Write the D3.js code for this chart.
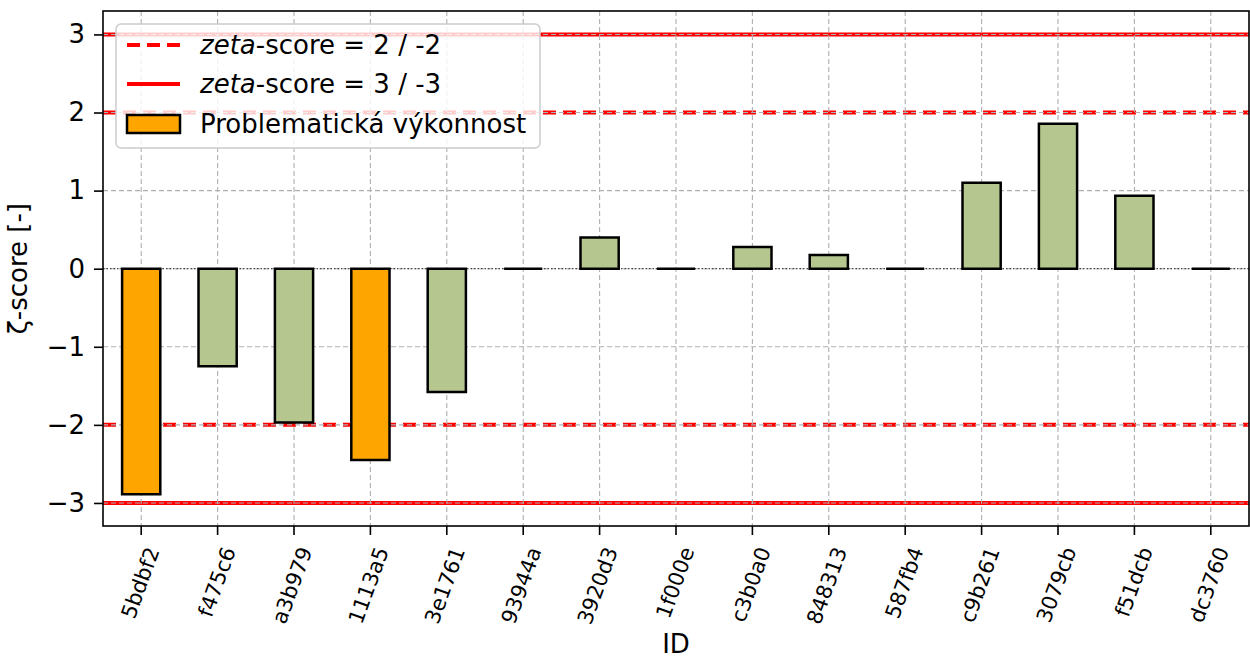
<!DOCTYPE html>
<html><head><meta charset="utf-8">
<script src="https://cdn.jsdelivr.net/npm/d3@7"></script>
<style>body{margin:0;background:#fff}svg{display:block;font-family:"DejaVu Sans",sans-serif}</style>
</head><body><svg id="c" width="1250" height="659"></svg>
<script>
const categories = ["5bdbf2","f475c6","a3b979","1113a5","3e1761","93944a","3920d3","1f000e","c3b0a0","848313","587fb4","c9b261","3079cb","f51dcb","dc3760"];
const values = [-2.89,-1.25,-1.97,-2.45,-1.58,0,0.40,0,0.278,0.175,0,1.10,1.857,0.935,0];
const yTicks = [-3,-2,-1,0,1,2,3];
const warnLevels = [2,-2];
const actionLevels = [3,-3];
const legendLabels = [["zeta","-score = 2 / -2"],["zeta","-score = 3 / -3"],["","Problematická výkonnost"]];

const svg = d3.select("#c");
const L = 103, R = 1249, T = 11, B = 526;
const x = d3.scaleBand().domain(categories).range([L, R]).paddingInner(0).paddingOuter(0);
const y = d3.scaleLinear().domain([-3.295, 3.3]).range([B, T]);
const bw = x.bandwidth()*0.5;
const FS = 26;

// red reference lines
const g0 = svg.append("g");
g0.selectAll("line.warn").data(warnLevels).join("line")
  .attr("x1", L).attr("x2", R).attr("y1", d=>y(d)).attr("y2", d=>y(d))
  .attr("stroke", "red").attr("stroke-width", 4).attr("stroke-dasharray", "13,7");
g0.selectAll("line.act").data(actionLevels).join("line")
  .attr("x1", L).attr("x2", R).attr("y1", d=>y(d)).attr("y2", d=>y(d))
  .attr("stroke", "red").attr("stroke-width", 4);

// grid
const grid = svg.append("g").attr("stroke", "#b0b0b0").attr("stroke-width", 1.1).attr("stroke-dasharray", "5,3");
grid.selectAll("line.gx").data(categories).join("line")
  .attr("x1", d=>x(d)+x.bandwidth()/2).attr("x2", d=>x(d)+x.bandwidth()/2).attr("y1", T).attr("y2", B);
grid.selectAll("line.gy").data(yTicks).join("line")
  .attr("x1", L).attr("x2", R).attr("y1", d=>y(d)).attr("y2", d=>y(d));
// zero dotted line
svg.append("line").attr("x1", L).attr("x2", R).attr("y1", y(0)).attr("y2", y(0))
  .attr("stroke", "#444").attr("stroke-width", 1.2).attr("stroke-dasharray", "1.5,2");

// bars (paths so zero-height bars still show their edge)
svg.append("g").selectAll("path").data(values).join("path")
  .attr("d", (d,i)=>{
    const x0 = x(categories[i])+x.bandwidth()/2-bw/2;
    const y0 = y(Math.max(0,d)), h = Math.abs(y(d)-y(0));
    return `M${x0},${y0}h${bw}v${h}h${-bw}Z`;
  })
  .attr("fill", d=>Math.abs(d)>=2 ? "#ffa500" : "#b5c68e")
  .attr("stroke", "#000").attr("stroke-width", 2.5).attr("stroke-linejoin", "miter");

// frame
svg.append("rect").attr("x", L).attr("y", T).attr("width", R-L).attr("height", B-T)
  .attr("fill", "none").attr("stroke", "#000").attr("stroke-width", 1.6);

// y axis
const yAxis = svg.append("g").attr("transform", `translate(${L},0)`)
  .call(d3.axisLeft(y).tickValues(yTicks).tickSize(9).tickPadding(9).tickFormat(d3.format("d")));
yAxis.select(".domain").remove();
yAxis.selectAll("line").attr("stroke-width", 1.6);
yAxis.selectAll("text").attr("font-size", FS).attr("font-family", "DejaVu Sans").attr("fill", "#000");

// x axis
const xAxis = svg.append("g").attr("transform", `translate(0,${B})`)
  .call(d3.axisBottom(x).tickSize(9).tickPadding(0));
xAxis.select(".domain").remove();
xAxis.selectAll("line").attr("stroke-width", 1.6);
xAxis.selectAll("text").attr("font-size", 21).attr("font-family", "DejaVu Sans").attr("fill", "#000")
  .attr("text-anchor", "end").attr("dy", null).attr("y", 0)
  .attr("transform", "translate(12,22) rotate(-70)").attr("dominant-baseline", "central");

// axis labels
svg.append("text").attr("x", (L+R)/2).attr("y", 653).attr("text-anchor", "middle")
  .attr("font-size", FS).text("ID");
svg.append("text").attr("transform", `translate(27,${y(0)}) rotate(-90)`).attr("text-anchor", "middle")
  .attr("font-size", FS).text("ζ-score [-]");

// legend
const lg = svg.append("g");
lg.append("rect").attr("x", 116).attr("y", 24).attr("width", 424).attr("height", 124).attr("rx", 5)
  .attr("fill", "rgba(255,255,255,0.8)").attr("stroke", "#cccccc").attr("stroke-width", 1.5);
const rowsY = [45, 84, 124];
lg.append("line").attr("x1", 127).attr("x2", 180).attr("y1", rowsY[0]).attr("y2", rowsY[0])
  .attr("stroke", "red").attr("stroke-width", 4).attr("stroke-dasharray", "13,7");
lg.append("line").attr("x1", 127).attr("x2", 180).attr("y1", rowsY[1]).attr("y2", rowsY[1])
  .attr("stroke", "red").attr("stroke-width", 4);
lg.append("rect").attr("x", 127).attr("y", rowsY[2]-9).attr("width", 53).attr("height", 18)
  .attr("fill", "#ffa500").attr("stroke", "#000").attr("stroke-width", 2.5);
legendLabels.forEach((lab,i)=>{
  const t = lg.append("text").attr("x", 200).attr("y", rowsY[i]).attr("dy", "0.36em").attr("font-size", FS);
  if (lab[0]) t.append("tspan").attr("font-style", "italic").text(lab[0]);
  t.append("tspan").text(lab[1]);
});
</script></body></html>
